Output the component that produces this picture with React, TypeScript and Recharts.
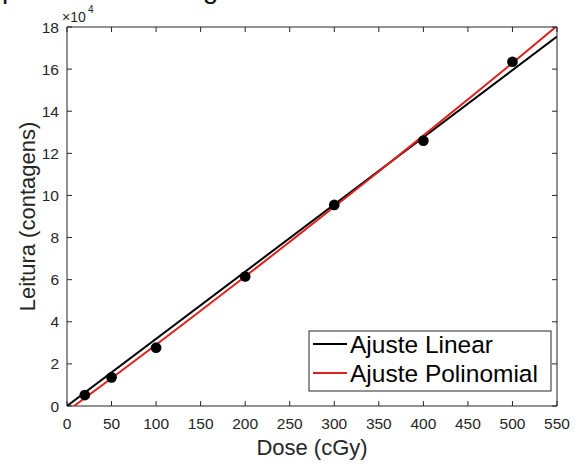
import React from "react";
import {
  ComposedChart,
  Line,
  Scatter,
  XAxis,
  YAxis,
  ZAxis,
  ReferenceArea,
} from "recharts";

// ---- data (readings in units of 10^4 counts) ----
const doses = [20, 50, 100, 200, 300, 400, 500];
const readings = [0.52, 1.36, 2.77, 6.15, 9.55, 12.6, 16.35];

const linearDose = [0, 550];
const linearReading = [0.0, 17.55];

const polyDose = [0, 50, 100, 150, 200, 250, 300, 350, 400, 450, 500, 550];
const polyReading = [-0.25, 1.32, 2.91, 4.52, 6.15, 7.8, 9.46, 11.14, 12.84, 14.56, 16.29, 18.05];

const xTicks = [0, 50, 100, 150, 200, 250, 300, 350, 400, 450, 500, 550];
const yTicks = [0, 2, 4, 6, 8, 10, 12, 14, 16, 18];

const seriesNames = ["Ajuste Linear", "Ajuste Polinomial"];
const seriesColors = ["#000000", "#e0201c"];

const pointData = doses.map((d, i) => ({ x: d, y: readings[i] }));
const linearData = linearDose.map((d, i) => ({ x: d, y: linearReading[i] }));
const polyData = polyDose.map((d, i) => ({ x: d, y: polyReading[i] }));

// ---- layout ----
const W = 579;
const H = 464;
const PLOT_LEFT = 67;
const PLOT_RIGHT = 557;
const PLOT_TOP = 27;
const PLOT_BOTTOM = 406;
const TICK_LEN = 5;
const AXIS_COLOR = "#262626";
const FONT = "'Liberation Sans', Arial, Helvetica, sans-serif";
const TICK_FONT = 15.5;

const XTick = (props: any) => {
  const { x, payload } = props;
  return (
    <g>
      <line x1={x} x2={x} y1={PLOT_BOTTOM} y2={PLOT_BOTTOM - TICK_LEN} stroke={AXIS_COLOR} strokeWidth={1} />
      <line x1={x} x2={x} y1={PLOT_TOP} y2={PLOT_TOP + TICK_LEN} stroke={AXIS_COLOR} strokeWidth={1} />
      <text x={x} y={PLOT_BOTTOM + 23} textAnchor="middle" fontSize={TICK_FONT} fill={AXIS_COLOR} fontFamily={FONT}>
        {payload.value}
      </text>
    </g>
  );
};

const YTick = (props: any) => {
  const { y, payload } = props;
  return (
    <g>
      <line x1={PLOT_LEFT} x2={PLOT_LEFT + TICK_LEN} y1={y} y2={y} stroke={AXIS_COLOR} strokeWidth={1} />
      <line x1={PLOT_RIGHT} x2={PLOT_RIGHT - TICK_LEN} y1={y} y2={y} stroke={AXIS_COLOR} strokeWidth={1} />
      <text x={PLOT_LEFT - 8} y={y + 5.5} textAnchor="end" fontSize={TICK_FONT} fill={AXIS_COLOR} fontFamily={FONT}>
        {payload.value}
      </text>
    </g>
  );
};

const LegendBox = () => {
  const left = 309;
  const top = 331;
  const width = 242;
  const height = 60;
  return (
    <svg width={W} height={H} style={{ position: "absolute", left: 0, top: 0, pointerEvents: "none" }}>
      <rect x={left} y={top} width={width} height={height} fill="#ffffff" stroke={AXIS_COLOR} strokeWidth={1} />
      {seriesNames.map((name, i) => {
        const cy = top + 13 + i * 29;
        return (
          <g key={name}>
            <line x1={left + 4} x2={left + 38} y1={cy} y2={cy} stroke={seriesColors[i]} strokeWidth={2} />
            <text x={left + 41} y={cy + 8.5} fontSize={24.5} fill="#000" fontFamily={FONT}>
              {name}
            </text>
          </g>
        );
      })}
    </svg>
  );
};

export default function App() {
  return (
    <div style={{ position: "absolute", left: 0, top: 0, width: W, height: H, overflow: "hidden", background: "#fff" }}>
      <div
        style={{
          position: "absolute",
          left: 2,
          top: -25,
          fontSize: 28,
          lineHeight: 1,
          fontFamily: FONT,
          whiteSpace: "nowrap",
          color: "#111",
        }}
      >
        presentado na figura
      </div>
      <ComposedChart
        width={W}
        height={H}
        margin={{ top: PLOT_TOP, right: W - PLOT_RIGHT, bottom: 0, left: 0 }}
        style={{ position: "absolute", left: 0, top: 0 }}
      >
        <XAxis
          dataKey="x"
          type="number"
          domain={[0, 550]}
          ticks={xTicks}
          allowDataOverflow
          height={H - PLOT_BOTTOM}
          tickLine={false}
          axisLine={false}
          tickSize={0}
          tick={<XTick />}
          interval={0}
        />
        <YAxis
          dataKey="y"
          type="number"
          domain={[0, 18]}
          ticks={yTicks}
          allowDataOverflow
          width={PLOT_LEFT}
          tickLine={false}
          axisLine={false}
          tickSize={0}
          tick={<YTick />}
          interval={0}
        />
        <ZAxis range={[90, 90]} />
        <ReferenceArea x1={0} x2={550} y1={0} y2={18} fill="none" stroke={AXIS_COLOR} strokeWidth={1} fillOpacity={0} />
        <Line
          data={linearData}
          dataKey="y"
          name={seriesNames[0]}
          stroke={seriesColors[0]}
          strokeWidth={2}
          dot={false}
          activeDot={false}
          isAnimationActive={false}
          type="linear"
        />
        <Line
          data={polyData}
          dataKey="y"
          name={seriesNames[1]}
          stroke={seriesColors[1]}
          strokeWidth={2}
          dot={false}
          activeDot={false}
          isAnimationActive={false}
          type="monotone"
        />
        <Scatter data={pointData} dataKey="y" fill="#000" isAnimationActive={false} />
        <text x={62} y={22} fontSize={14} fill={AXIS_COLOR} fontFamily={FONT}>
          ×10
        </text>
        <text x={88} y={13} fontSize={10} fill={AXIS_COLOR} fontFamily={FONT}>
          4
        </text>
        <text
          x={27}
          y={(PLOT_TOP + PLOT_BOTTOM) / 2}
          transform={`rotate(-90, 27, ${(PLOT_TOP + PLOT_BOTTOM) / 2})`}
          textAnchor="middle"
          dominantBaseline="central"
          fontSize={22}
          fill={AXIS_COLOR}
          fontFamily={FONT}
        >
          Leitura (contagens)
        </text>
        <text x={(PLOT_LEFT + PLOT_RIGHT) / 2} y={455} textAnchor="middle" fontSize={22} fill={AXIS_COLOR} fontFamily={FONT}>
          Dose (cGy)
        </text>
      </ComposedChart>
      <LegendBox />
    </div>
  );
}
